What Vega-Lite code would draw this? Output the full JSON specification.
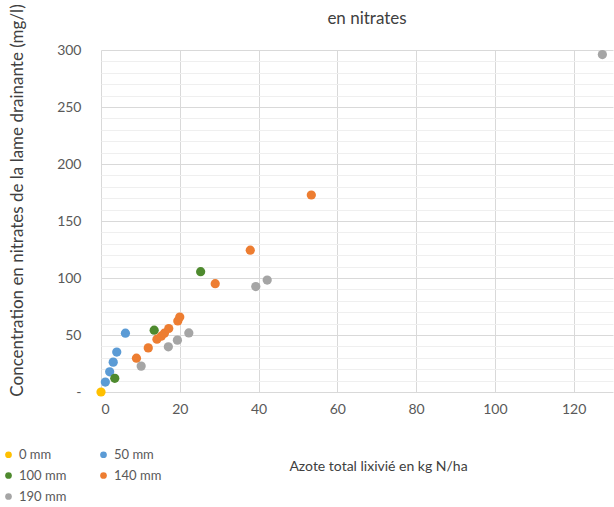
{
  "$schema": "https://vega.github.io/schema/vega-lite/v6.json",
  "autosize": {"type": "none"},
  "padding": {"left": 101, "top": 50, "right": 1, "bottom": 115},
  "width": 512,
  "height": 342,
  "background": "white",
  "config": {
    "view": {"stroke": null},
    "font": "Lato",
    "axis": {"labelFont": "Lato", "titleFont": "Lato", "labelColor": "#595959", "titleColor": "#404040", "labelFontSize": 14, "titleFontSize": 14, "titleFontWeight": "normal"},
    "legend": {"labelFont": "Lato", "labelColor": "#595959", "labelFontSize": 13}
  },
  "title": {"text": "en nitrates", "font": "Lato", "fontSize": 17, "fontWeight": "normal", "color": "#404040", "anchor": "middle", "dx": 10, "offset": -24},
  "data": {
    "values": [
      {"serie": "0 mm", "azote": 0, "nitrates": 0},
      {"serie": "50 mm", "azote": 1.1, "nitrates": 8.7},
      {"serie": "50 mm", "azote": 2.2, "nitrates": 17.7},
      {"serie": "50 mm", "azote": 3.1, "nitrates": 26.2},
      {"serie": "50 mm", "azote": 4.0, "nitrates": 35},
      {"serie": "50 mm", "azote": 6.2, "nitrates": 51.6},
      {"serie": "100 mm", "azote": 3.5, "nitrates": 12},
      {"serie": "100 mm", "azote": 13.5, "nitrates": 54.2},
      {"serie": "100 mm", "azote": 25.3, "nitrates": 105.5},
      {"serie": "140 mm", "azote": 9.0, "nitrates": 29.7},
      {"serie": "140 mm", "azote": 12.0, "nitrates": 38.7},
      {"serie": "140 mm", "azote": 14.2, "nitrates": 46.3},
      {"serie": "140 mm", "azote": 15.3, "nitrates": 49},
      {"serie": "140 mm", "azote": 16.1, "nitrates": 51.6},
      {"serie": "140 mm", "azote": 17.2, "nitrates": 55.7},
      {"serie": "140 mm", "azote": 19.5, "nitrates": 62.3},
      {"serie": "140 mm", "azote": 20.0, "nitrates": 65.8},
      {"serie": "140 mm", "azote": 29.0, "nitrates": 95},
      {"serie": "140 mm", "azote": 37.9, "nitrates": 124.4},
      {"serie": "140 mm", "azote": 53.4, "nitrates": 172.8},
      {"serie": "190 mm", "azote": 10.2, "nitrates": 22.7},
      {"serie": "190 mm", "azote": 17.1, "nitrates": 39.6},
      {"serie": "190 mm", "azote": 19.4, "nitrates": 45.5},
      {"serie": "190 mm", "azote": 22.3, "nitrates": 51.8},
      {"serie": "190 mm", "azote": 39.3, "nitrates": 92.5},
      {"serie": "190 mm", "azote": 42.2, "nitrates": 98.2},
      {"serie": "190 mm", "azote": 127.3, "nitrates": 296}
    ]
  },
  "layer": [
    {
      "mark": {"type": "point", "opacity": 0},
      "encoding": {
        "x": {"field": "azote", "type": "quantitative", "scale": {"domain": [0, 130], "nice": false},
          "axis": {"values": [0, 20, 40, 60, 80, 100, 120], "grid": true, "gridColor": "#d9d9d9", "ticks": false, "domain": false, "labelPadding": 10, "title": "Azote total lixivié en kg N/ha", "titleX": 277, "titleY": 74, "titleAlign": "center", "titleBaseline": "middle"}},
        "y": {"field": "nitrates", "type": "quantitative", "scale": {"domain": [0, 300], "nice": false},
          "axis": {"orient": "left", "values": [10,20,30,40,60,70,80,90,110,120,130,140,160,170,180,190,210,220,230,240,260,270,280,290], "grid": true, "gridColor": "#efefef", "gridWidth": 1, "labels": false, "ticks": false, "domain": false, "title": null}}
      }
    },
    {
      "mark": {"type": "circle", "size": 85, "opacity": 1, "clip": false},
      "encoding": {
        "x": {"field": "azote", "type": "quantitative", "scale": {"domain": [0, 130], "nice": false},
          "axis": {"values": [0, 20, 40, 60, 80, 100, 120], "grid": true, "gridColor": "#d9d9d9", "ticks": false, "domain": false, "labelPadding": 10, "title": "Azote total lixivié en kg N/ha", "titleX": 277, "titleY": 74, "titleAlign": "center", "titleBaseline": "middle"}},
        "y": {"field": "nitrates", "type": "quantitative", "scale": {"domain": [0, 300], "nice": false},
          "axis": {"orient": "left", "values": [0, 50, 100, 150, 200, 250, 300], "grid": true, "gridColor": "#d9d9d9", "ticks": false, "domain": false, "labelPadding": 20, "labelExpr": "datum.value == 0 ? '-' : datum.label", "title": "Concentration en nitrates de la lame drainante (mg/l)", "titleFontSize": 17, "titleX": -84, "titleY": 150, "titleAngle": -90, "titleAlign": "center", "titleBaseline": "middle"}},
        "color": {"field": "serie", "type": "nominal",
          "scale": {"domain": ["0 mm", "100 mm", "190 mm", "50 mm", "140 mm"], "range": ["#FFC000", "#4E8A2E", "#A5A5A5", "#5B9BD5", "#ED7D31"]},
          "legend": {"title": null, "orient": "none", "legendX": -99, "legendY": 398, "columns": 2, "columnPadding": 30, "rowPadding": 7, "symbolType": "circle", "symbolSize": 45, "labelOffset": 4, "symbolOpacity": 1}}
      }
    }
  ],
  "resolve": {"axis": {"y": "independent"}}
}
